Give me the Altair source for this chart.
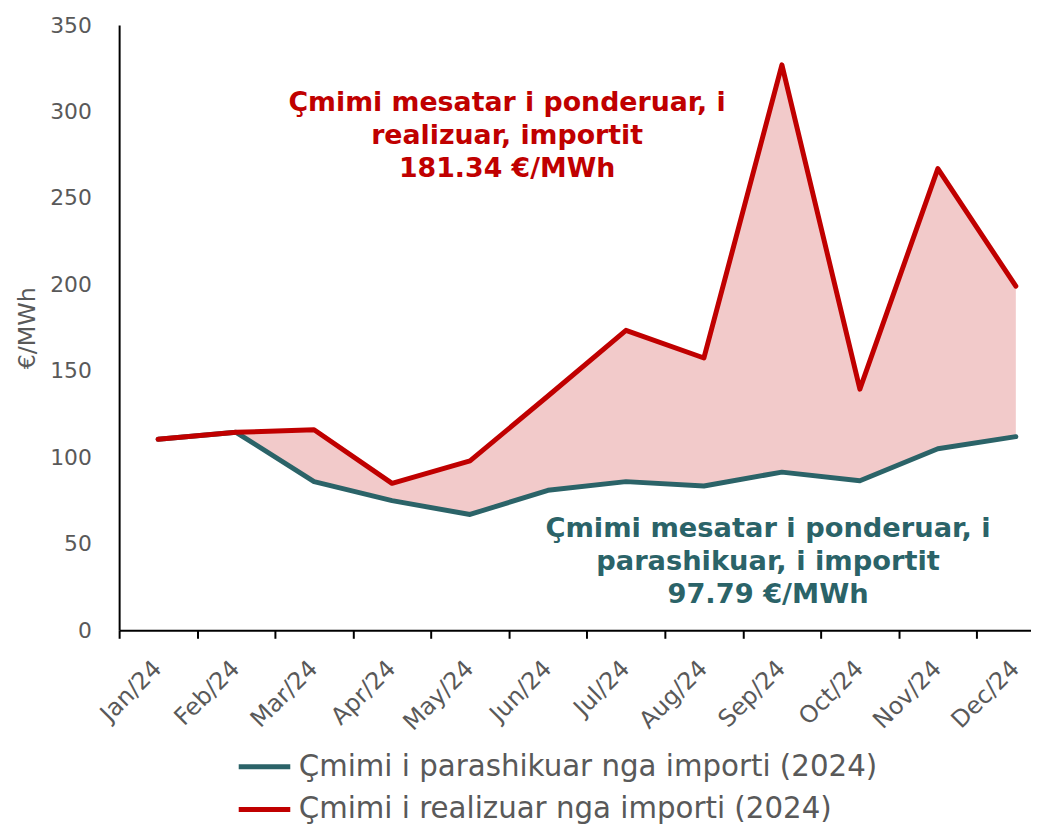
import altair as alt
import pandas as pd

months = ["Jan/24", "Feb/24", "Mar/24", "Apr/24", "May/24", "Jun/24",
          "Jul/24", "Aug/24", "Sep/24", "Oct/24", "Nov/24", "Dec/24"]
forecast = [110.5, 114.5, 86.0, 75.0, 67.0, 81.0, 86.0, 83.5, 91.5, 86.5, 105.0, 112.0]
realized = [110.5, 114.5, 116.0, 85.0, 98.0, 135.5, 173.5, 157.5, 327.0, 139.5, 267.0, 199.0]
series_names = ["Çmimi i parashikuar nga importi (2024)",
                "Çmimi i realizuar nga importi (2024)"]
series_colors = ["#2B6368", "#C00000"]
red_note = ["Çmimi mesatar i ponderuar, i", "realizuar, importit", "181.34 €/MWh"]
teal_note = ["Çmimi mesatar i ponderuar, i", "parashikuar, i importit", "97.79 €/MWh"]

FONT = "DejaVu Sans"
wide = pd.DataFrame({"month": months, "forecast": forecast, "realized": realized})
long = pd.concat([
    pd.DataFrame({"month": months, "value": forecast, "series": series_names[0]}),
    pd.DataFrame({"month": months, "value": realized, "series": series_names[1]}),
])

xscale = alt.Scale(domain=months, paddingInner=0, paddingOuter=0)
yscale = alt.Scale(domain=[0, 350])

area = alt.Chart(wide).mark_area(color="#F2CACA", opacity=1).encode(
    x=alt.X("month:N", sort=months, scale=xscale,
            axis=alt.Axis(title=None, labelAngle=-45, labelFontSize=24, labelColor="#595959",
                          labelFont=FONT, tickBand="extent", tickColor="black", tickSize=8,
                          tickWidth=2, domainColor="black", domainWidth=2, labelPadding=18,
                          labelOffset=-9)),
    y=alt.Y("realized:Q", scale=yscale,
            axis=alt.Axis(title="€/MWh", values=[0, 50, 100, 150, 200, 250, 300, 350],
                          grid=False, ticks=False, labelFontSize=22, labelColor="#595959",
                          labelFont=FONT, domainColor="black", domainWidth=2, labelPadding=28,
                          titleFont=FONT, titleFontSize=24, titleFontWeight="normal",
                          titleColor="#595959", titlePadding=10)),
    y2="forecast:Q",
)

lines = alt.Chart(long).mark_line(strokeWidth=5, strokeCap="round", strokeJoin="round").encode(
    x=alt.X("month:N", sort=months, scale=xscale),
    y=alt.Y("value:Q", scale=yscale),
    color=alt.Color("series:N", sort=series_names,
                    scale=alt.Scale(domain=series_names, range=series_colors),
                    legend=alt.Legend(title=None, orient="none", legendX=118, legendY=719,
                                      symbolType="stroke", symbolSize=2700, symbolStrokeWidth=5,
                                      labelFontSize=29.5, labelFont=FONT, labelColor="#595959",
                                      labelLimit=900, rowPadding=-10, labelOffset=6)),
    order=alt.Order("series:N", sort="ascending"),
)

red_df = pd.DataFrame({"t": ["\n".join(red_note)]})
teal_df = pd.DataFrame({"t": ["\n".join(teal_note)]})

red_text = alt.Chart(red_df).mark_text(font=FONT, fontSize=27, fontWeight="bold",
                                       color="#C00000", align="center", baseline="middle",
                                       lineBreak="\n", lineHeight=33).encode(
    x=alt.value(391), y=alt.value(79), text="t:N")
teal_text = alt.Chart(teal_df).mark_text(font=FONT, fontSize=27.5, fontWeight="bold",
                                         color="#2B6368", align="center", baseline="middle",
                                         lineBreak="\n", lineHeight=33).encode(
    x=alt.value(654), y=alt.value(508), text="t:N")

chart = alt.layer(area, lines, red_text, teal_text).properties(
    width=943, height=610,
    autosize=alt.AutoSizeParams(type="none"),
    padding={"left": 112, "top": 14, "right": -24, "bottom": 197},
).configure_view(stroke=None)

chart.save("out.html", embed_options={"renderer": "svg", "actions": False})
